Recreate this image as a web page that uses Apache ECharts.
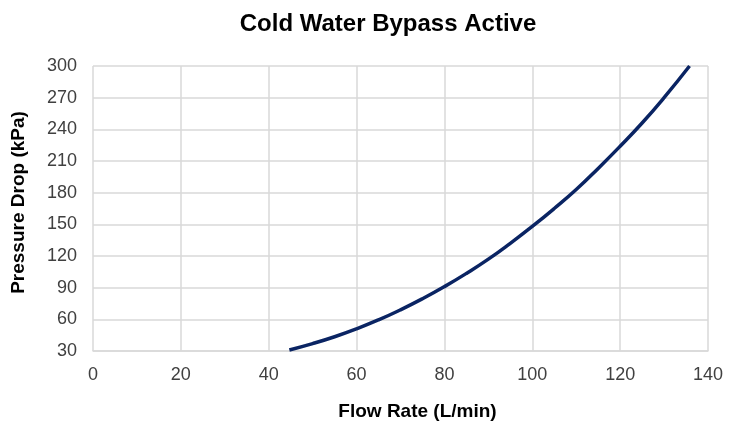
<!DOCTYPE html>
<html>
<head>
<meta charset="utf-8">
<script src="https://cdn.jsdelivr.net/npm/echarts@6/dist/echarts.min.js"></script>
<style>html,body{margin:0;padding:0;background:#fff;}#c{width:734px;height:427px;}</style>
</head>
<body>
<div id="c"></div>
<script>
const flowRate = [44.7, 50, 55, 60, 65, 70, 75, 80, 85, 90, 95, 100, 105, 110, 115, 120, 125, 130, 135.8];
const pressureDrop = [31, 37, 43.5, 51, 59.5, 69, 79.5, 91, 103.5, 117, 132, 148, 165, 183, 203, 224, 246, 270, 300];
const xTicks = {min: 0, max: 140, interval: 20};
const yTicks = {min: 30, max: 300, interval: 30};

const chart = echarts.init(document.getElementById('c'), null, {renderer: 'canvas'});
const font = '"Liberation Sans", Arial, sans-serif';
chart.setOption({
  animation: false,
  backgroundColor: '#ffffff',
  title: {
    text: 'Cold Water Bypass Active',
    left: 383, top: 7, textAlign: 'center',
    textStyle: {fontFamily: font, fontSize: 24, fontWeight: 'bold', color: '#000'}
  },
  grid: {left: 93, right: 26, top: 66, bottom: 76, containLabel: false},
  xAxis: {
    type: 'value', min: xTicks.min, max: xTicks.max, interval: xTicks.interval,
    name: 'Flow Rate (L/min)', nameLocation: 'middle', nameGap: 51,
    nameTextStyle: {fontFamily: font, fontSize: 19, fontWeight: 'bold', color: '#000', padding: [0, 0, 0, 34]},
    axisLine: {show: true, lineStyle: {color: '#d9d9d9', width: 1.5}},
    axisTick: {show: false},
    axisLabel: {fontFamily: font, fontSize: 18, color: '#404040', margin: 15},
    splitLine: {show: true, lineStyle: {color: '#d9d9d9', width: 1.5}}
  },
  yAxis: {
    type: 'value', min: yTicks.min, max: yTicks.max, interval: yTicks.interval,
    name: 'Pressure Drop (kPa)', nameLocation: 'middle', nameGap: 65, nameRotate: 90,
    nameTextStyle: {fontFamily: font, fontSize: 19, fontWeight: 'bold', color: '#000', padding: [0, 0, 0, 12]},
    axisLine: {show: false},
    axisTick: {show: false},
    axisLabel: {fontFamily: font, fontSize: 18, color: '#404040', margin: 16},
    splitLine: {show: true, lineStyle: {color: '#d9d9d9', width: 1.5}}
  },
  series: [{
    type: 'line',
    data: flowRate.map((q, i) => [q, pressureDrop[i]]),
    smooth: 0.5,
    showSymbol: false,
    lineStyle: {color: '#0a2463', width: 3.5},
    z: 5
  }]
});
</script>
</body>
</html>
